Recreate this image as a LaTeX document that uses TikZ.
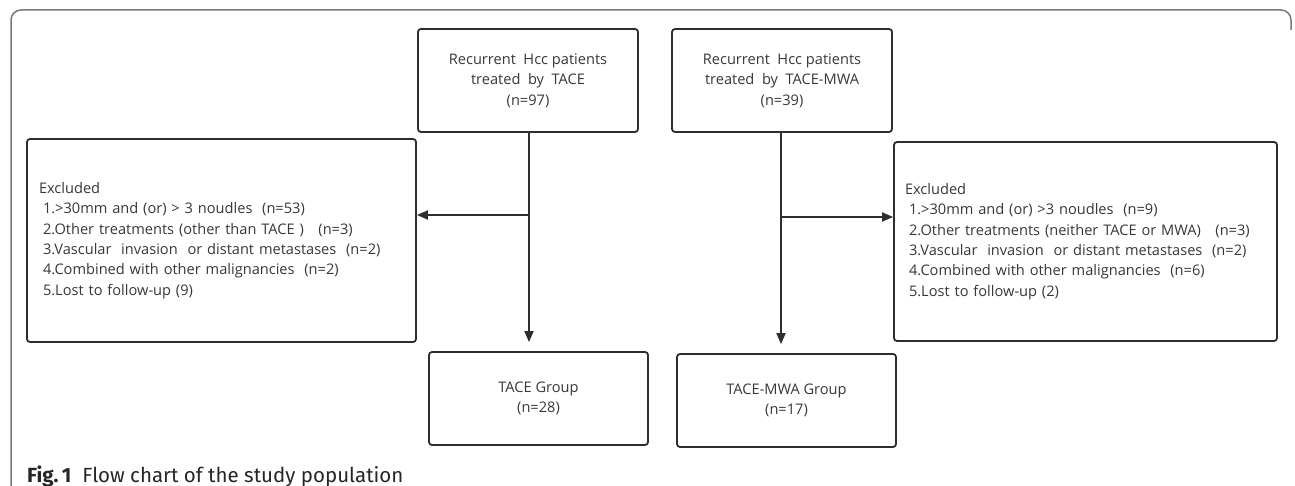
\documentclass[tikz,border=0pt]{standalone}
\usepackage{fontspec}
\setmainfont{Open Sans}
\newfontfamily\capfont{Fira Sans}
\usetikzlibrary{arrows.meta,calc}
\definecolor{txt}{HTML}{383838}
\definecolor{edge}{HTML}{2E2E2E}
\definecolor{frame}{HTML}{7A7A7A}
\begin{document}
\begin{tikzpicture}[x=1pt,y=-1pt,
  box/.style={draw=edge,line width=1.8pt,rounded corners=3pt,inner sep=0pt,
    text=txt,font=\fontsize{14.6}{20.4}\selectfont,align=center},
  exbox/.style={box,align=left,inner xsep=12pt},
  conn/.style={draw=edge,line width=1.8pt},
  arr/.style={conn,-{Triangle[length=11pt,width=9pt]}}]
\useasboundingbox (0,0) rectangle (1295,486);
\fill[white] (0,0) rectangle (1295,486);
% outer frame
\draw[frame,line width=1.5pt,rounded corners=10pt] (11,486) -- (11,10) -- (1291,10) -- (1291,30);
% nodes
\node[box,minimum width=220pt,minimum height=103pt] (top1) at (528,80.5)
  {Recurrent\ \ Hcc patients\\treated\ \ by\ \ TACE\\(n=97)};
\node[box,minimum width=220pt,minimum height=103pt] (top2) at (782,80.5)
  {Recurrent\ \ Hcc patients\\treated\ \ by\ \ TACE-MWA\\(n=39)};
\node[exbox,text width=365pt,minimum height=203pt] (exc1) at (221.5,240.5)
  {Excluded\\
   \hspace*{4pt}1.>30mm and (or) > 3 noudles\ \ (n=53)\\
   \hspace*{4pt}2.Other treatments (other than TACE )\ \ \ (n=3)\\
   \hspace*{4pt}3.Vascular\ \ invasion\ \ or distant metastases\ \ (n=2)\\
   \hspace*{4pt}4.Combined with other malignancies\ \ (n=2)\\
   \hspace*{4pt}5.Lost to follow-up (9)};
\node[exbox,inner xsep=11pt,text width=361pt,minimum height=199pt] (exc2) at (1085.5,241.5)
  {Excluded\\
   \hspace*{4pt}1.>30mm and (or) >3 noudles\ \ (n=9)\\
   \hspace*{4pt}2.Other treatments (neither TACE or MWA)\ \ \ (n=3)\\
   \hspace*{4pt}3.Vascular\ \ invasion\ \ or distant metastases\ \ (n=2)\\
   \hspace*{4pt}4.Combined with other malignancies\ \ (n=6)\\
   \hspace*{4pt}5.Lost to follow-up (2)};
\node[box,minimum width=219pt,minimum height=93pt] (grp1) at (538.5,398.5)
  {TACE Group\\(n=28)};
\node[box,minimum width=219pt,minimum height=93pt] (grp2) at (786.5,400.5)
  {TACE-MWA Group\\(n=17)};
% connectors
\coordinate (br1) at (529,215);
\coordinate (br2) at (781,217);
\draw[arr,shorten >=9pt] (top1.south -| br1) -- (br1 |- grp1.north);
\draw[arr] (br1) -- (br1 -| exc1.east);
\draw[arr,shorten >=9pt] (top2.south -| br2) -- (br2 |- grp2.north);
\draw[arr] (br2) -- (br2 -| exc2.west);
% caption
\node[anchor=base west,inner sep=0pt,font=\capfont\fontsize{20.5}{22}\selectfont,text=black!85] (cap) at (27,482)
  {\textbf{Fig.\,1}\ \ Flow chart of the study population};
\end{tikzpicture}
\end{document}
